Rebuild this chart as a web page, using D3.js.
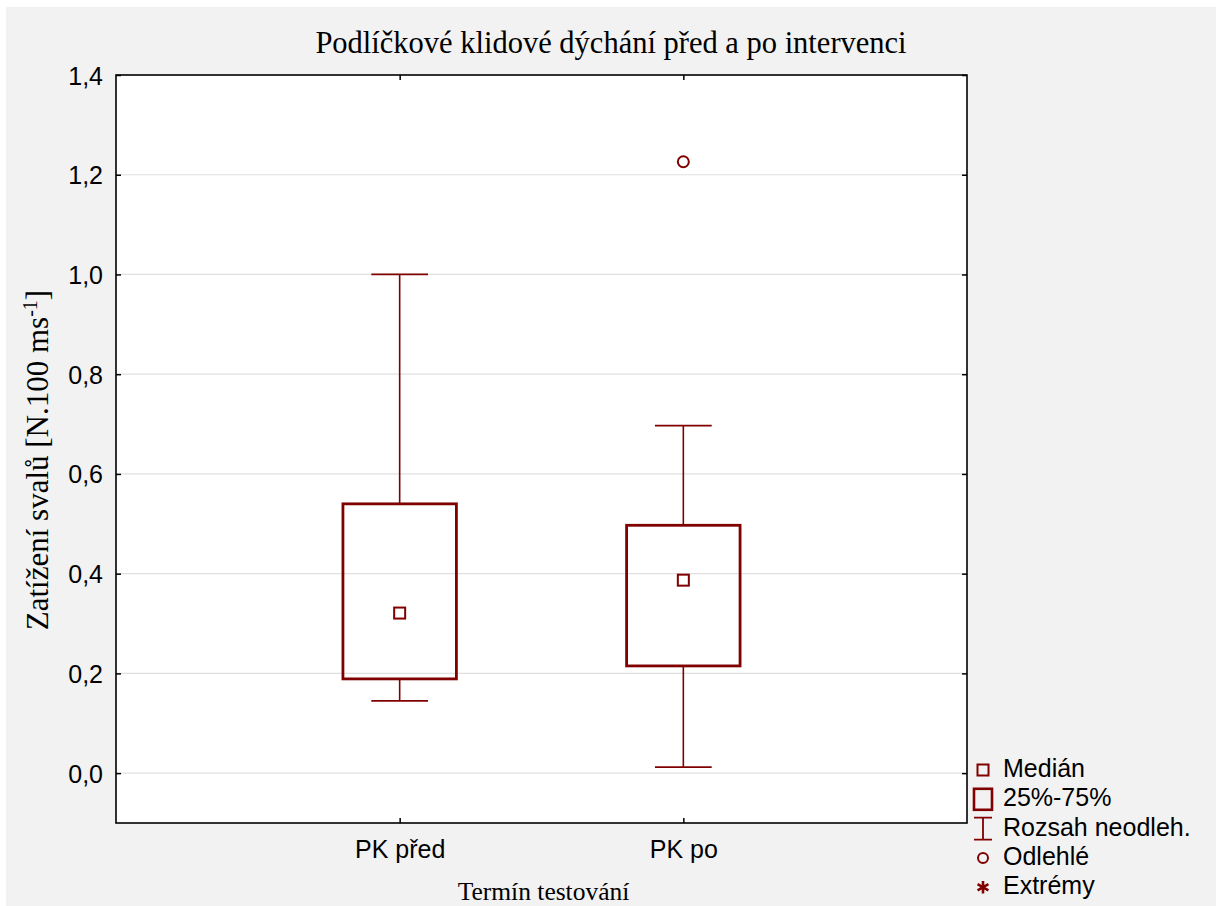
<!DOCTYPE html>
<html>
<head>
<meta charset="utf-8">
<script src="https://cdn.jsdelivr.net/npm/d3@7"></script>
<style>
  body { margin: 0; background: #fff; }
  svg { display: block; }
</style>
</head>
<body>
<div id="chart"></div>
<script>
// values
var categories = ["PK před", "PK po"];
var whiskerLow = [0.145, 0.012];
var q1 = [0.189, 0.215];
var median = [0.321, 0.387];
var q3 = [0.540, 0.497];
var whiskerHigh = [1.0, 0.697];
var outliers = [[], [1.226]];
var yTicks = [0, 0.2, 0.4, 0.6, 0.8, 1.0, 1.2, 1.4];
var legendLabels = ["Medián", "25%-75%", "Rozsah neodleh.", "Odlehlé", "Extrémy"];

var W = 1221, H = 906;
var margin = {top: 75, right: 254, bottom: 83, left: 116};
var width = W - margin.left - margin.right,
    height = H - margin.top - margin.bottom;
var red = "#800000";
var sans = "'Liberation Sans', Arial, sans-serif",
    serif = "'Liberation Serif', 'Times New Roman', serif";

var svg = d3.select("#chart").append("svg")
  .attr("width", W)
  .attr("height", H);

// grey panel
svg.append("rect")
  .attr("x", 6).attr("y", 7)
  .attr("width", 1210).attr("height", H)
  .attr("fill", "#f2f2f2");

var g = svg.append("g")
  .attr("transform", "translate(" + margin.left + "," + margin.top + ")");

var x = d3.scalePoint()
    .domain(categories)
    .range([0, width])
    .padding(1);

var y = d3.scaleLinear()
    .domain([-0.1, 1.4])
    .range([height, 0]);

var fmt = function(d) { return d3.format(".1f")(d).replace(".", ","); };
var step = x.step();
var boxW = step * 0.4, capW = step * 0.2;

// plot background
g.append("rect")
  .attr("width", width).attr("height", height)
  .attr("fill", "#fff");

// grid
g.append("g")
  .selectAll("line")
  .data(yTicks.slice(0, -1))
  .enter().append("line")
  .attr("x1", 0).attr("x2", width)
  .attr("y1", function(d) { return y(d); })
  .attr("y2", function(d) { return y(d); })
  .attr("stroke", "#e0e0e0")
  .attr("stroke-width", 1.2);

// axes with inward ticks
var axLeft = g.append("g")
  .call(d3.axisLeft(y).tickValues(yTicks).tickSize(-5).tickPadding(13).tickFormat(fmt));
var axRight = g.append("g")
  .attr("transform", "translate(" + width + ",0)")
  .call(d3.axisRight(y).tickValues(yTicks).tickSize(-5).tickFormat(""));
var axBottom = g.append("g")
  .attr("transform", "translate(0," + height + ")")
  .call(d3.axisBottom(x).tickSize(-5).tickPadding(17));
var axTop = g.append("g")
  .call(d3.axisTop(x).tickSize(-5).tickFormat(""));

[axLeft, axRight, axBottom, axTop].forEach(function(a) {
  a.select(".domain").remove();
  a.selectAll(".tick line").attr("stroke", "#000").attr("stroke-width", 1.5);
  a.selectAll("text").attr("font-family", sans).attr("font-size", 25).attr("fill", "#000");
});
axLeft.selectAll("text").attr("dy", "0.36em");
axBottom.selectAll("text").attr("dy", "0.71em");

// frame
g.append("rect")
  .attr("width", width).attr("height", height)
  .attr("fill", "none")
  .attr("stroke", "#000")
  .attr("stroke-width", 1.6);

// boxes
var data = categories.map(function(c, i) {
  return {cat: c, lo: whiskerLow[i], q1: q1[i], med: median[i], q3: q3[i], hi: whiskerHigh[i], out: outliers[i]};
});

var box = g.append("g").selectAll("g")
  .data(data)
  .enter().append("g")
  .attr("transform", function(d) { return "translate(" + x(d.cat) + ",0)"; });

box.append("line")
  .attr("y1", function(d) { return y(d.q3); })
  .attr("y2", function(d) { return y(d.hi); })
  .attr("stroke", red).attr("stroke-width", 1.6);
box.append("line")
  .attr("y1", function(d) { return y(d.q1); })
  .attr("y2", function(d) { return y(d.lo); })
  .attr("stroke", red).attr("stroke-width", 1.6);
box.append("line")
  .attr("x1", -capW / 2).attr("x2", capW / 2)
  .attr("y1", function(d) { return y(d.hi); })
  .attr("y2", function(d) { return y(d.hi); })
  .attr("stroke", red).attr("stroke-width", 1.8);
box.append("line")
  .attr("x1", -capW / 2).attr("x2", capW / 2)
  .attr("y1", function(d) { return y(d.lo); })
  .attr("y2", function(d) { return y(d.lo); })
  .attr("stroke", red).attr("stroke-width", 1.8);

box.append("rect")
  .attr("x", -boxW / 2)
  .attr("width", boxW)
  .attr("y", function(d) { return y(d.q3); })
  .attr("height", function(d) { return y(d.q1) - y(d.q3); })
  .attr("fill", "none")
  .attr("stroke", red).attr("stroke-width", 2.8);

box.append("rect")
  .attr("x", -5.5).attr("width", 11)
  .attr("y", function(d) { return y(d.med) - 5.5; })
  .attr("height", 11)
  .attr("fill", "none")
  .attr("stroke", red).attr("stroke-width", 2);

box.selectAll("circle")
  .data(function(d) { return d.out; })
  .enter().append("circle")
  .attr("cy", function(d) { return y(d); })
  .attr("r", 5.5)
  .attr("fill", "none")
  .attr("stroke", red).attr("stroke-width", 2);

// titles
svg.append("text")
  .attr("x", 611).attr("y", 53)
  .attr("text-anchor", "middle")
  .attr("font-family", serif).attr("font-size", 30.5)
  .text("Podlíčkové klidové dýchání před a po intervenci");

svg.append("text")
  .attr("x", margin.left + width / 2 + 2).attr("y", 900)
  .attr("text-anchor", "middle")
  .attr("font-family", serif).attr("font-size", 25.5)
  .text("Termín testování");

var ylab = svg.append("text")
  .attr("transform", "translate(48,460) rotate(-90)")
  .attr("text-anchor", "middle")
  .attr("font-family", serif).attr("font-size", 31);
ylab.append("tspan").text("Zatížení svalů [N.100 ms");
ylab.append("tspan").attr("dy", -11).attr("font-size", 20).text("-1");
ylab.append("tspan").attr("dy", 11).text("]");

// legend
var legend = svg.append("g")
  .attr("transform", "translate(983,770)")
  .selectAll("g")
  .data(legendLabels)
  .enter().append("g")
  .attr("transform", function(d, i) { return "translate(0," + i * 29.3 + ")"; });

legend.append("text")
  .attr("x", 20).attr("y", 7)
  .attr("font-family", sans).attr("font-size", 25)
  .text(function(d) { return d; });

legend.each(function(d, i) {
  var s = d3.select(this);
  if (i === 0) {
    s.append("rect").attr("x", -5.5).attr("y", -5.5).attr("width", 11).attr("height", 11)
      .attr("fill", "none").attr("stroke", red).attr("stroke-width", 2);
  } else if (i === 1) {
    s.append("rect").attr("x", -9).attr("y", -10.5).attr("width", 18).attr("height", 21)
      .attr("fill", "none").attr("stroke", red).attr("stroke-width", 2.6);
  } else if (i === 2) {
    s.append("path").attr("d", "M-9,-11H9M0,-11V11M-9,11H9")
      .attr("fill", "none").attr("stroke", red).attr("stroke-width", 1.8);
  } else if (i === 3) {
    s.append("circle").attr("r", 5).attr("fill", "none").attr("stroke", red).attr("stroke-width", 2);
  } else {
    s.append("path").attr("d", d3.symbol(d3.symbolAsterisk, 110)())
      .attr("fill", "none").attr("stroke", red).attr("stroke-width", 2.6);
  }
});
</script>
</body>
</html>
